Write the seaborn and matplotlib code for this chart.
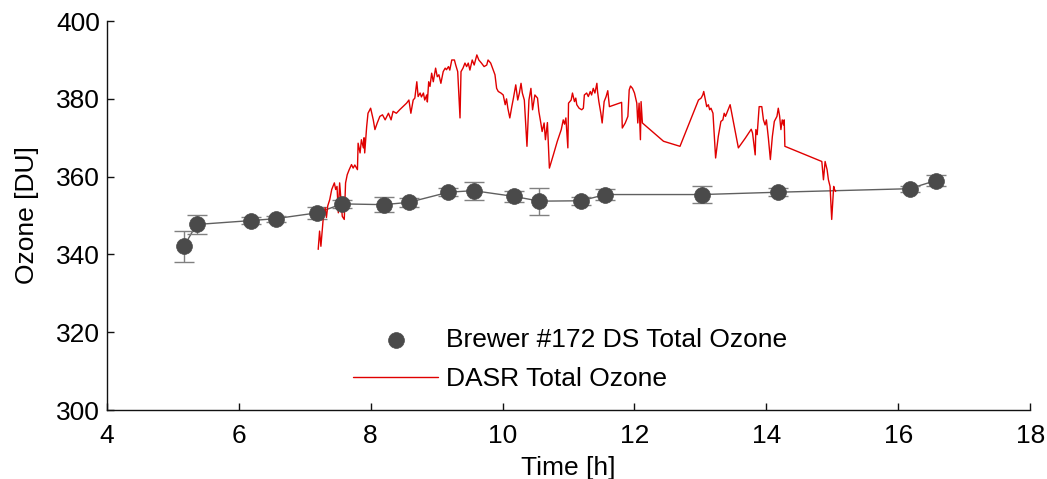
import matplotlib
matplotlib.use("Agg")
import matplotlib.pyplot as plt
import seaborn as sns
import pandas as pd

# Brewer #172 direct-sun total ozone (hour, DU, 1-sigma)
brewer_time = [5.17, 5.36, 6.18, 6.56, 7.19, 7.57, 8.20, 8.58, 9.18, 9.56,
               10.18, 10.56, 11.19, 11.56, 13.02, 14.18, 16.17, 16.57]
brewer_ozone = [342.1, 347.7, 348.7, 349.2, 350.7, 353.0, 352.8, 353.4, 356.0, 356.4,
                354.9, 353.7, 353.8, 355.4, 355.4, 356.0, 356.9, 359.0]
brewer_err = [4.0, 2.5, 1.0, 0.8, 1.5, 1.0, 2.0, 1.2, 1.0, 2.3,
              1.5, 3.5, 1.0, 1.5, 2.2, 1.0, 0.8, 1.5]

# DASR total ozone retrievals
dasr_time = [7.205, 7.226, 7.246, 7.28, 7.31, 7.33, 7.35, 7.38, 7.41, 7.45, 7.47, 7.49,
             7.51, 7.53, 7.57, 7.60, 7.62, 7.645, 7.675, 7.71, 7.735, 7.76, 7.80, 7.81,
             7.84, 7.86, 7.89, 7.90, 7.91, 7.94, 7.96, 8.00, 8.04, 8.065, 8.10, 8.14,
             8.18, 8.22, 8.27, 8.31, 8.34, 8.39, 8.44, 8.49, 8.545, 8.58, 8.61, 8.645,
             8.67, 8.70, 8.72, 8.75, 8.77, 8.80, 8.82, 8.85, 8.86, 8.88, 8.90, 8.925,
             8.95, 8.985, 9.01, 9.035, 9.065, 9.10, 9.13, 9.15, 9.18, 9.20, 9.23, 9.27,
             9.29, 9.32, 9.355, 9.37, 9.40, 9.43, 9.455, 9.48, 9.505, 9.54, 9.57, 9.61,
             9.64, 9.68, 9.72, 9.76, 9.78, 9.82, 9.86, 9.885, 9.91, 9.935, 9.975, 10.01,
             10.04, 10.06, 10.08, 10.11, 10.14, 10.165, 10.20, 10.23, 10.255, 10.28, 10.30,
             10.33, 10.37, 10.40, 10.43, 10.455, 10.49, 10.53, 10.55, 10.58, 10.60, 10.63,
             10.65, 10.68, 10.71, 10.77, 10.83, 10.89, 10.92, 10.94, 10.96, 10.99, 11.00,
             11.04, 11.06, 11.09, 11.11, 11.125, 11.16, 11.20, 11.225, 11.24, 11.275,
             11.30, 11.33, 11.35, 11.375, 11.40, 11.43, 11.44, 11.46, 11.49, 11.51, 11.54,
             11.57, 11.595, 11.62, 11.805, 11.815, 11.86, 11.90, 11.92, 11.94, 11.97,
             12.00, 12.035, 12.05, 12.07, 12.09, 12.10, 12.12, 12.44, 12.69, 12.97, 13.01,
             13.035, 13.05, 13.07, 13.095, 13.12, 13.14, 13.16, 13.19, 13.23, 13.27, 13.31,
             13.34, 13.36, 13.38, 13.45, 13.575, 13.68, 13.77, 13.79, 13.83, 13.84, 13.86,
             13.89, 13.93, 13.955, 13.98, 14.00, 14.03, 14.06, 14.09, 14.12, 14.16, 14.18,
             14.20, 14.22, 14.24, 14.26, 14.27, 14.28, 14.84, 14.865, 14.89, 14.92, 14.94,
             14.965, 14.99, 15.02, 15.03, 15.05]
dasr_ozone = [341.3, 346.0, 342.1, 349.0, 352.0, 349.5, 352.5, 354.1, 356.7, 358.4, 356.7, 357.5,
              350.7, 358.4, 349.8, 349.0, 358.4, 360.5, 361.8, 363.1, 362.2, 363.0, 361.8, 368.6,
              366.1, 369.5, 367.4, 370.0, 366.1, 372.9, 376.3, 377.6, 374.6, 372.1, 373.8, 375.5,
              375.9, 374.6, 376.3, 374.6, 376.8, 376.3, 377.2, 378.0, 378.9, 379.7, 376.3, 379.7,
              380.2, 384.4, 380.6, 381.5, 380.5, 381.5, 379.7, 381.0, 379.2, 384.4, 383.2, 386.6,
              384.4, 387.9, 385.7, 386.2, 384.0, 387.0, 387.9, 387.5, 388.3, 387.4, 390.0, 390.0,
              388.7, 387.0, 375.1, 387.0, 387.9, 389.2, 388.3, 389.2, 387.4, 390.0, 388.7, 391.3,
              390.0, 389.2, 388.3, 388.7, 390.0, 389.2, 387.4, 386.2, 382.7, 381.9, 381.5, 381.0,
              378.5, 380.0, 377.6, 375.1, 378.0, 380.2, 383.6, 379.7, 381.5, 384.0, 381.5,
              379.7, 367.8, 379.7, 382.7, 377.2, 381.0, 380.2, 376.8, 373.8, 371.6, 373.8,
              369.5, 373.9, 362.2, 365.6, 369.1, 372.1, 374.6, 373.5, 375.1, 367.4, 378.9,
              379.7, 381.5, 379.3, 380.2, 378.5, 377.6, 377.2, 377.6, 381.0, 381.5,
              380.6, 381.9, 381.0, 382.7, 381.5, 384.0, 381.9, 379.3, 376.3, 373.8, 379.3,
              380.6, 382.1, 378.0, 379.1, 372.5, 373.8, 375.5, 382.3, 383.3, 382.7,
              381.5, 378.9, 373.8, 378.9, 369.5, 379.3, 373.8, 369.1, 367.8, 379.7, 380.2,
              381.0, 381.9, 380.2, 378.0, 378.5, 377.2, 377.6, 376.3, 364.8, 370.3, 374.2,
              374.6, 376.3, 375.5, 378.5, 367.4, 369.9, 372.2, 371.2, 365.6, 372.1, 370.8,
              378.0, 378.0, 374.6, 373.3, 374.6, 369.9, 364.4, 370.3, 374.2, 375.5, 377.6,
              375.6, 372.1, 374.6, 373.3, 374.6, 367.8, 363.9, 359.2, 363.9, 361.8, 359.2,
              357.5, 349.0, 357.5, 356.8, 356.2]

brewer = pd.DataFrame({"time": brewer_time, "ozone": brewer_ozone, "err": brewer_err})
dasr = pd.DataFrame({"time": dasr_time, "ozone": dasr_ozone})

sns.set_theme(style="white")
plt.rcParams["font.family"] = ["Liberation Sans", "DejaVu Sans"]
plt.rcParams["text.color"] = "black"
plt.rcParams["axes.labelcolor"] = "black"
plt.rcParams["xtick.color"] = "black"
plt.rcParams["ytick.color"] = "black"

fig = plt.figure(figsize=(10.47, 4.79), dpi=100)
ax = fig.add_axes([0.102, 0.144, 0.882, 0.812])

# Brewer connecting line, error bars and markers
ax.plot(brewer["time"], brewer["ozone"], color="#606060", lw=1.0, zorder=2)
ax.errorbar(brewer["time"], brewer["ozone"], yerr=brewer["err"], fmt="none",
            ecolor="#808080", elinewidth=1.0, capsize=7, capthick=1.0, zorder=2)
sns.lineplot(data=dasr, x="time", y="ozone", ax=ax, color="#e00000", lw=1.0,
             label="DASR Total Ozone", zorder=3, sort=False, estimator=None)
sns.scatterplot(data=brewer, x="time", y="ozone", ax=ax, color="#4a4a4a", s=130,
                edgecolor="#4a4a4a", linewidth=0.5, label="Brewer #172 DS Total Ozone",
                zorder=4)

ax.set_xlim(4, 18)
ax.set_ylim(300, 400)
ax.set_xticks(range(4, 19, 2))
ax.set_yticks(range(300, 401, 20))
ax.set_xlabel("Time [h]", fontsize=19, labelpad=6)
ax.set_ylabel("Ozone [DU]", fontsize=19, labelpad=12)
ax.tick_params(axis="both", direction="in", length=5, width=1.0, color="#111111",
               labelsize=19, left=True, bottom=True)
ax.tick_params(axis="x", pad=10)
ax.tick_params(axis="y", pad=5)
for side in ("top", "right"):
    ax.spines[side].set_visible(False)
for side in ("left", "bottom"):
    ax.spines[side].set_color("#111111")
    ax.spines[side].set_linewidth(1.0)

handles, labels = ax.get_legend_handles_labels()
order = [labels.index("Brewer #172 DS Total Ozone"), labels.index("DASR Total Ozone")]
ax.legend([handles[i] for i in order], [labels[i] for i in order],
          loc="upper left", bbox_to_anchor=(0.325, 0.342), bbox_transform=fig.transFigure,
          frameon=False, fontsize=19, handlelength=3.2, handletextpad=0.3,
          labelspacing=0.55, borderpad=0, markerscale=1.0)

fig.savefig("out.png", dpi=100)
